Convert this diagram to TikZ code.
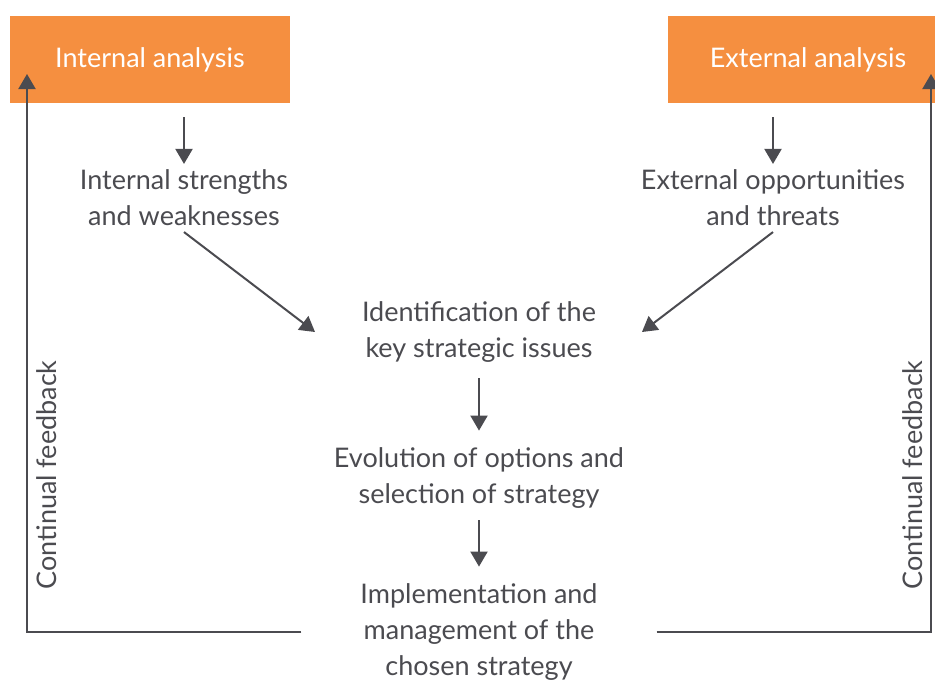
\documentclass[tikz,border=0pt]{standalone}
\usepackage{fontspec}
\setmainfont{Lato}
\usepackage{tikz}
\usetikzlibrary{arrows.meta}
\usetikzlibrary{positioning}
\definecolor{boxorange}{HTML}{F58F40}
\definecolor{textgray}{HTML}{4B4B50}

\begin{document}
\begin{tikzpicture}[x=1pt, y=-1pt, ->, >={Triangle[length=15pt, width=17pt]}, line width=2pt,
	color=textgray, font=\fontsize{27}{36}\selectfont,
	main box/.style={rectangle, fill=boxorange, text=white, minimum width=280pt, minimum height=87pt, inner sep=0pt},
	main node/.style={align=center, inner sep=0pt, outer sep=6pt},
	side note/.style={rotate=90, inner sep=0pt},
]
\useasboundingbox (0, 0) rectangle (935, 680);
\clip (0, 0) rectangle (935, 680);
\node [main box] at (150, 59.5) (IntAna) {Internal analysis};
\node [main box] at (808, 59.5) (ExtAna) {External analysis};
\node [main node] at (184, 198) (IntSW) {Internal strengths\\and weaknesses};
\node [main node] at (773, 198) (ExtOT) {External opportunities\\and threats};
\node [main node] at (479, 332) (KeyIss) {Identification of the\\key strategic issues};
\node [main node] at (479, 478) (Options) {Evolution of options and\\selection of strategy};
\node [main node] at (479, 632) (Implem) {Implementation and\\management of the\\chosen strategy};
\node [side note] at (47, 475) (FbLeft) {Continual feedback};
\node [side note] at (913, 475) (FbRight) {Continual feedback};
\coordinate (FbLeftEnd) at (27, 74);
\coordinate (FbRightEnd) at (931, 74);
%
\draw [->, shorten <=13pt] (IntAna.south -| IntSW) -- (IntSW);
\draw [->, shorten <=13pt] (ExtAna.south -| ExtOT) -- (ExtOT);
\draw [->] (IntSW.south) -- ([xshift=-41pt]KeyIss.west);
\draw [->] (ExtOT.south) -- ([xshift=40pt]KeyIss.east);
\draw [->, shorten <=10pt, shorten >=11pt] (KeyIss) -- (Options);
\draw [->, shorten <=6pt, shorten >=11pt] (Options) -- (Implem);
\draw [->] ([xshift=-53pt]Implem.west) -| (FbLeftEnd);
\draw [->] ([xshift=53pt]Implem.east) -| (FbRightEnd);
\end{tikzpicture}
\end{document}
